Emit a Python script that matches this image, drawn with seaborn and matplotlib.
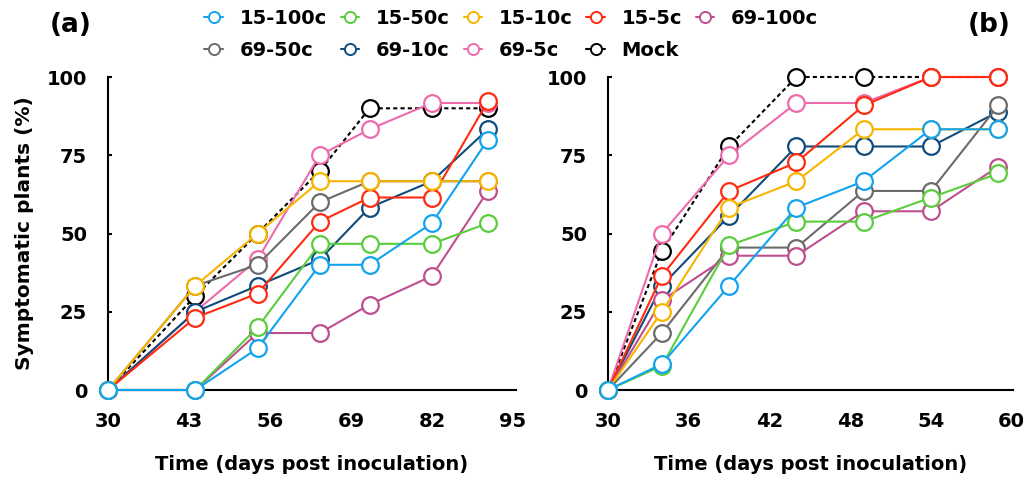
import matplotlib
matplotlib.use("Agg")
import matplotlib.pyplot as plt
import seaborn as sns
import pandas as pd
from matplotlib.lines import Line2D

# ---- data ----
groups = ["15-100c", "15-50c", "15-10c", "15-5c", "69-100c",
          "69-50c", "69-10c", "69-5c", "Mock"]
colors = {"15-100c": "#12A3EE", "15-50c": "#5ACD3C", "15-10c": "#F7B500",
          "15-5c": "#FF2A0F", "69-100c": "#BE4F8E", "69-50c": "#6B6B6B",
          "69-10c": "#0F4C7C", "69-5c": "#EE6AAA", "Mock": "#000000"}

days_a = [30, 44, 54, 64, 72, 82, 91]
pct_a = {
    "15-100c": [0, 0, 13.3, 40, 40, 53.3, 80],
    "15-50c": [0, 0, 20, 46.7, 46.7, 46.7, 53.3],
    "15-10c": [0, 33.3, 50, 66.7, 66.7, 66.7, 66.7],
    "15-5c": [0, 23.1, 30.8, 53.8, 61.5, 61.5, 92.3],
    "69-100c": [0, 0, 18.2, 18.2, 27.3, 36.4, 63.6],
    "69-50c": [0, 33.3, 40, 60, 66.7, 66.7, 66.7],
    "69-10c": [0, 25, 33.3, 41.7, 58.3, 66.7, 83.3],
    "69-5c": [0, 25, 41.7, 75, 83.3, 91.7, 91.7],
    "Mock": [0, 30, 50, 70, 90, 90, 90],
}

days_b = [30, 34, 39, 44, 49, 54, 59]
pct_b = {
    "15-100c": [0, 8.3, 33.3, 58.3, 66.7, 83.3, 83.3],
    "15-50c": [0, 7.7, 46.2, 53.8, 53.8, 61.5, 69.2],
    "15-10c": [0, 25, 58.3, 66.7, 83.3, 83.3, 83.3],
    "15-5c": [0, 36.4, 63.6, 72.7, 90.9, 100, 100],
    "69-100c": [0, 28.6, 42.9, 42.9, 57.1, 57.1, 71.4],
    "69-50c": [0, 18.2, 45.5, 45.5, 63.6, 63.6, 90.9],
    "69-10c": [0, 33.3, 55.6, 77.8, 77.8, 77.8, 88.9],
    "69-5c": [0, 50, 75, 91.7, 91.7, 100, 100],
    "Mock": [0, 44.4, 77.8, 100, 100, 100, 100],
}

x_ticks_a = [30, 43, 56, 69, 82, 95]
x_ticks_b = [30, 36, 42, 48, 54, 60]
y_ticks = [0, 25, 50, 75, 100]

sns.set_theme(style="white")
plt.rcParams["font.family"] = ["DejaVu Sans"]
plt.rcParams["font.weight"] = "bold"
plt.rcParams["text.color"] = "black"
plt.rcParams["axes.labelcolor"] = "black"
plt.rcParams["xtick.color"] = "black"
plt.rcParams["ytick.color"] = "black"

fig = plt.figure(figsize=(10.27, 4.84), dpi=100)
ax_a = fig.add_axes([0.1052, 0.1942, 0.3972, 0.6467])
ax_b = fig.add_axes([0.5920, 0.1942, 0.3944, 0.6467])

# reverse of the legend order: Mock at the bottom, 15-100c on top
draw_order = groups[::-1]


def draw_panel(ax, days, pct, xlim, xticks):
    for i, g in enumerate(draw_order):
        df = pd.DataFrame({"day": days, "pct": pct[g]})
        sns.lineplot(data=df, x="day", y="pct", ax=ax, color=colors[g],
                     linewidth=1.5, marker="o", markersize=12,
                     markerfacecolor="white", markeredgecolor=colors[g],
                     markeredgewidth=1.6, errorbar=None, clip_on=False,
                     zorder=3 + i, legend=False)
        if g == "Mock":
            ax.lines[-1].set_dashes((2, 1.5))
    ax.set_xlim(*xlim)
    ax.set_ylim(0, 100)
    ax.set_xticks(xticks)
    ax.set_yticks(y_ticks)
    ax.set_xlabel("Time (days post inoculation)", fontsize=14,
                  fontweight="bold", labelpad=17)
    ax.set_ylabel("")
    for s in ["top", "right"]:
        ax.spines[s].set_visible(False)
    for s in ["left", "bottom"]:
        ax.spines[s].set_linewidth(1.5)
        ax.spines[s].set_color("black")
    ax.tick_params(axis="x", length=0, pad=16, labelsize=14)
    ax.tick_params(axis="y", direction="in", length=3, width=1.5,
                   pad=15, labelsize=14, left=True)
    for lab in ax.get_xticklabels() + ax.get_yticklabels():
        lab.set_fontweight("bold")


draw_panel(ax_a, days_a, pct_a, (30, 95.5), x_ticks_a)
draw_panel(ax_b, days_b, pct_b, (30, 60.1), x_ticks_b)

ax_a.set_ylabel("Symptomatic plants (%)", fontsize=14.5, fontweight="bold",
                labelpad=9)

fig.text(0.048, 0.948, "(a)", fontsize=19, fontweight="bold",
         ha="left", va="center")
fig.text(0.984, 0.948, "(b)", fontsize=19, fontweight="bold",
         ha="right", va="center")

# legend, row-major order over two rows
handles = {g: Line2D([], [], color=colors[g], linewidth=1.5, marker="o",
                     markersize=8, markerfacecolor="white",
                     markeredgecolor=colors[g], markeredgewidth=1.4)
           for g in groups}
order = [0, 5, 1, 6, 2, 7, 3, 8, 4]
fig.legend([handles[groups[i]] for i in order], [groups[i] for i in order],
           loc="upper left", bbox_to_anchor=(0.182, 1.017), ncol=5,
           frameon=False, handlelength=0.95, handletextpad=0.85,
           columnspacing=0.72, labelspacing=0.65,
           prop={"size": 14, "weight": "bold"})

fig.savefig("out.png", dpi=100)
